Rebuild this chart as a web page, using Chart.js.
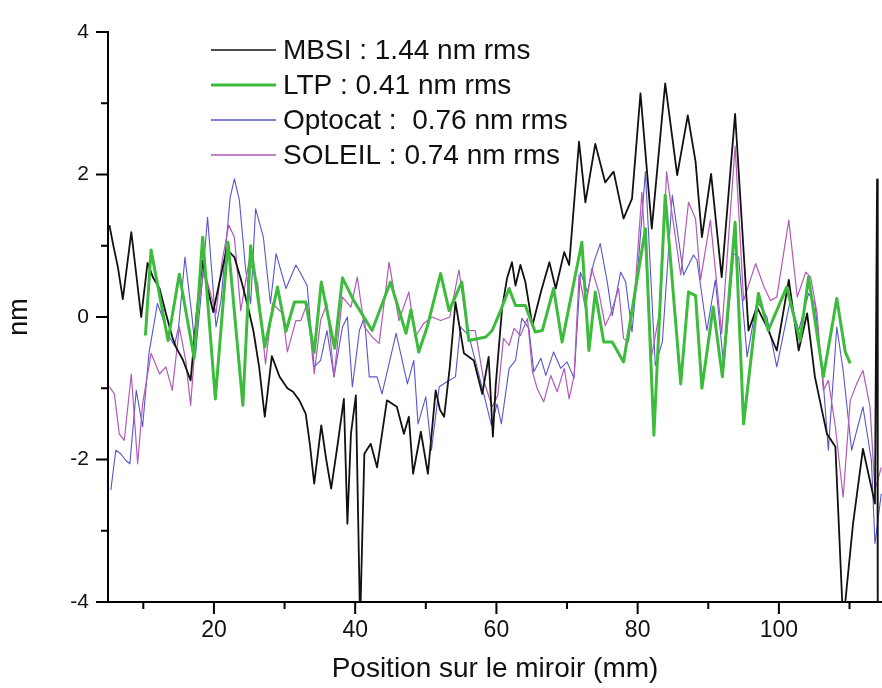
<!DOCTYPE html>
<html>
<head>
<meta charset="utf-8">
<script src="https://cdn.jsdelivr.net/npm/chart.js@4"></script>
<style>
  html, body { margin: 0; padding: 0; background: #fff; }
  #wrap { width: 882px; height: 688px; }
</style>
</head>
<body>
<div id="wrap"><canvas id="chart" width="882" height="688"></canvas></div>
<script>
// Profils de hauteur (nm) le long du miroir (mm)
const mbsiX = [5.2, 5.7, 6.4, 7.1, 8.3, 9.0, 9.7, 10.6, 11.4, 12.3, 13.2, 14.1, 14.6, 15.6, 16.7, 17.6, 18.4, 19.1, 19.9, 20.8,
  21.8, 22.9, 23.9, 24.8, 25.6, 26.4, 27.2, 28.2, 29.3, 30.4, 31.2, 32.1, 33.0, 33.6, 34.2, 35.2, 35.9, 36.6, 37.5, 38.4,
  38.9, 39.4, 40.1, 40.7, 41.3, 42.2, 43.1, 44.5, 45.9, 46.9, 47.6, 48.2, 49.3, 50.3, 51.4, 52.0, 52.6, 53.4, 54.2, 55.4,
  56.8, 58.0, 58.9, 59.5, 59.9, 60.8, 61.5, 62.2, 62.7, 63.4, 64.1, 65.1, 66.3, 67.5, 68.4, 69.6, 70.3, 71.7, 72.6, 74.0,
  75.4, 76.6, 78.0, 79.2, 80.4, 82.0, 83.9, 85.6, 87.1, 88.2, 89.1, 90.4, 91.9, 93.8, 95.7, 96.9, 98.3, 99.7, 101.4, 102.8,
  104.0, 105.1, 106.8, 108.0, 109.1, 110.5, 111.9, 113.6, 113.9, 114.0];
const mbsiY = [1.29, 1.03, 0.70, 0.25, 1.19, 0.60, 0.00, 0.76, 0.55, 0.40, 0.05, -0.28, -0.42, -0.60, -0.89, 0.10, 0.79, 0.40, 0.07, 0.50,
  0.95, 0.84, 0.50, 0.15, -0.20, -0.70, -1.40, -0.55, -0.84, -1.00, -1.05, -1.17, -1.36, -1.80, -2.34, -1.52, -2.00, -2.41, -1.80, -1.15,
  -2.90, -1.64, -1.10, -4.30, -1.92, -1.78, -2.11, -1.17, -1.26, -1.64, -1.40, -2.20, -1.61, -2.20, -1.03, -1.30, -1.40, -0.70, 0.21, -0.51,
  -0.61, -1.08, -0.56, -1.68, -0.96, 0.12, 0.54, 0.77, 0.44, 0.73, 0.49, -0.12, 0.35, 0.77, 0.40, 0.91, 0.73, 2.46, 1.61, 2.43,
  1.89, 2.04, 1.38, 1.66, 3.14, 1.24, 3.28, 1.99, 2.83, 2.18, 1.12, 2.01, 0.56, 2.85, -0.19, 0.14, -0.14, -0.47, 0.52, -0.47,
  0.05, -0.84, -1.64, -1.82, -4.30, -2.90, -1.85, -2.62, 1.93, -4.50];

const ltpX = [10.3, 11.1, 13.5, 15.1, 17.2, 18.4, 20.2, 22.0, 24.1, 25.2, 27.2, 29.0, 30.2, 31.4, 33.0, 34.2, 35.2, 37.1, 38.2, 39.8,
  42.4, 45.0, 47.2, 47.9, 49.0, 50.2, 52.1, 53.3, 55.1, 56.1, 58.5, 59.4, 60.6, 61.8, 62.7, 64.1, 65.5, 66.5, 68.1, 69.3,
  72.1, 73.1, 74.0, 75.2, 76.4, 78.0, 81.1, 82.3, 83.9, 86.1, 87.2, 88.2, 89.1, 90.7, 92.0, 93.8, 95.0, 97.1, 98.5, 101.1,
  103.0, 104.2, 106.3, 108.2, 109.4, 110.1];
const ltpY = [-0.26, 0.94, -0.33, 0.60, -0.58, 1.12, -1.15, 1.05, -1.24, 1.00, -0.42, 0.42, -0.20, 0.21, 0.21, -0.50, 0.49, -0.44, 0.55, 0.23,
  -0.19, 0.49, -0.23, 0.10, -0.49, -0.14, 0.61, 0.09, 0.49, -0.33, -0.28, -0.19, 0.09, 0.40, 0.16, 0.16, -0.21, -0.19, 0.40, -0.35,
  1.05, -0.47, 0.35, -0.35, -0.35, -0.63, 1.24, -1.66, 1.71, -0.94, 0.35, 0.30, -1.00, 0.14, -0.84, 1.33, -1.50, 0.33, -0.19, 0.42,
  -0.33, 0.56, -0.84, 0.26, -0.49, -0.65];

const optoX = [5.4, 6.1, 6.8, 7.5, 8.1, 9.0, 9.9, 10.8, 12.0, 12.7, 13.4, 14.4, 15.0, 15.9, 16.9, 17.4, 18.2, 19.1, 20.3, 21.0,
  22.3, 22.9, 23.6, 24.5, 25.2, 25.9, 27.0, 28.0, 28.8, 30.2, 31.6, 32.3, 33.2, 34.2, 35.1, 36.0, 37.0, 38.2, 38.9, 39.6,
  40.6, 41.3, 42.0, 43.1, 43.8, 45.8, 47.4, 48.3, 48.9, 50.0, 50.8, 51.9, 53.0, 54.2, 54.9, 56.1, 57.0, 58.2, 59.3, 60.1,
  60.7, 61.8, 62.7, 63.6, 64.6, 65.3, 66.3, 67.0, 68.1, 69.1, 70.0, 71.0, 71.9, 72.9, 73.8, 74.7, 75.7, 76.4, 77.6, 78.3,
  79.2, 80.1, 81.1, 82.5, 83.5, 84.9, 86.5, 87.9, 88.4, 89.8, 91.0, 92.2, 93.6, 94.3, 95.5, 96.9, 98.3, 99.7, 101.6, 102.8,
  104.2, 105.1, 106.3, 107.0, 108.2, 109.1, 110.3, 111.9, 113.1, 113.6, 114.5];
const optoY = [-2.43, -1.87, -1.92, -2.01, -2.06, -1.03, -1.54, -0.51, 0.19, 0.00, -0.23, -0.40, -0.14, 0.84, 0.00, -0.51, 0.33, 1.40, -0.14, 0.23,
  1.68, 1.94, 1.64, 0.66, 0.19, 1.52, 1.12, 0.19, 0.89, 0.40, 0.73, 0.61, 0.44, -0.70, -0.61, -0.19, -0.84, -0.14, 0.00, -0.98,
  -0.19, 0.00, -0.84, -0.84, -1.08, -0.23, -0.94, -0.61, -1.50, -1.12, -1.87, -0.98, -0.91, -0.84, -0.14, -0.26, -0.61, -1.08, -1.52, -1.22,
  -1.50, -0.72, -0.61, -0.02, -0.16, -0.77, -0.58, -0.82, -0.49, -0.72, -0.63, -0.86, 0.63, 0.35, 0.77, 1.03, 0.49, 0.02, 0.63, 0.49,
  -0.21, 0.77, 2.04, -0.68, -0.35, 1.71, 0.59, 0.87, 0.80, -0.19, 0.52, -0.70, 0.89, 0.84, -0.56, 0.23, 0.00, -0.70, 0.23, -0.19,
  0.33, 0.19, -0.94, -1.87, -0.14, -0.75, -1.87, -1.26, -2.01, -3.18, -2.48];

const soleilX = [5.2, 5.9, 6.6, 7.3, 8.3, 9.2, 9.9, 11.1, 12.3, 13.2, 14.1, 15.1, 16.0, 16.7, 17.7, 18.6, 20.3, 21.1, 22.1, 22.9,
  23.8, 25.0, 26.2, 27.3, 28.3, 29.7, 30.4, 31.6, 32.3, 33.2, 34.2, 35.1, 36.0, 37.0, 38.2, 39.4, 40.3, 41.3, 42.4, 43.4,
  44.8, 46.2, 47.6, 48.5, 49.7, 50.9, 52.1, 53.4, 54.7, 55.9, 57.0, 58.2, 59.4, 60.2, 61.0, 61.8, 62.5, 63.4, 64.4, 65.1,
  65.8, 66.7, 67.7, 68.6, 69.6, 70.3, 71.0, 71.7, 72.6, 73.5, 74.5, 75.4, 76.1, 77.3, 78.0, 78.7, 79.7, 80.6, 82.0, 83.2,
  84.1, 84.9, 86.1, 87.2, 88.2, 88.9, 90.3, 91.9, 93.8, 95.0, 96.7, 97.9, 98.8, 99.7, 101.4, 102.6, 103.8, 104.5, 105.4, 106.3,
  107.0, 108.0, 109.1, 110.1, 111.0, 111.9, 112.9, 113.6, 114.5];
const soleilY = [-0.98, -1.08, -1.64, -1.73, -0.80, -2.06, -1.22, -0.51, -0.80, -0.70, -1.03, -0.14, -0.61, -1.24, 0.09, 0.66, 0.05, 0.75, 1.29, 1.12,
  0.09, 0.80, 0.47, -0.66, 0.19, 0.05, -0.49, -0.05, -0.05, 0.19, -0.80, -0.05, 0.19, -0.84, 0.28, 0.14, 0.56, -0.14, -0.28, -0.37,
  0.77, -0.05, 0.35, -0.28, -0.09, 0.00, -0.05, 0.00, 0.66, -0.19, -0.19, -0.89, -1.26, -1.10, -0.30, -0.40, -0.16, -0.26, -0.02, -0.77,
  -1.01, -1.19, -0.82, -1.05, -0.72, -1.15, -0.82, 0.59, 0.12, 0.68, 0.35, -0.12, 0.02, 0.40, -0.30, -0.35, 0.49, 1.75, -0.54, 0.12,
  2.04, 1.43, 0.59, 1.61, 1.38, 0.52, 1.36, -0.23, 2.40, 0.23, 0.75, 0.42, 0.23, 0.28, 1.36, 0.28, 0.63, 0.56, 0.05, -1.03,
  -0.89, -1.54, -2.53, -1.17, -0.94, -0.75, -1.26, -2.43, -2.11];

const seriesLabels = ['MBSI : 1.44 nm rms', 'LTP : 0.41 nm rms', 'Optocat :  0.76 nm rms', 'SOLEIL : 0.74 nm rms'];

// graduations
const xMajorTicks = [20, 40, 60, 80, 100];
const xMinorTicks = [10, 30, 50, 70, 90, 110];
const yMajorTicks = [-4, -2, 0, 2, 4];
const yMinorTicks = [-3, -1, 1, 3];

function pts(xs, ys) {
  return xs.map((x, i) => ({ x: x, y: ys[i] }));
}

// tick marks drawn outward, major longer than minor
const tickMarks = {
  id: 'tickMarks',
  afterDraw(chart) {
    const ctx = chart.ctx;
    const xs = chart.scales.x, ys = chart.scales.y;
    const area = chart.chartArea;
    ctx.save();
    ctx.strokeStyle = '#000';
    ctx.lineWidth = 2;
    ctx.beginPath();
    xMajorTicks.forEach(v => { const p = xs.getPixelForValue(v); ctx.moveTo(p, area.bottom); ctx.lineTo(p, area.bottom + 12); });
    xMinorTicks.forEach(v => { const p = xs.getPixelForValue(v); ctx.moveTo(p, area.bottom); ctx.lineTo(p, area.bottom + 7); });
    yMajorTicks.forEach(v => { const p = ys.getPixelForValue(v); ctx.moveTo(area.left, p); ctx.lineTo(area.left - 12, p); });
    yMinorTicks.forEach(v => { const p = ys.getPixelForValue(v); ctx.moveTo(area.left, p); ctx.lineTo(area.left - 7, p); });
    ctx.stroke();
    ctx.restore();
  }
};

// legend inside the plot, top left
const insideLegend = {
  id: 'insideLegend',
  afterDraw(chart) {
    const ctx = chart.ctx;
    ctx.save();
    chart.data.datasets.forEach((ds, i) => {
      const y = 50 + i * 35;
      ctx.strokeStyle = ds.borderColor;
      ctx.lineWidth = ds.borderWidth > 2 ? 3 : 1.3;
      ctx.beginPath();
      ctx.moveTo(211, y);
      ctx.lineTo(276, y);
      ctx.stroke();
      ctx.fillStyle = '#111';
      ctx.font = '28px "Liberation Sans", Arial, sans-serif';
      ctx.textBaseline = 'middle';
      ctx.fillText(ds.label, 283, y + 1);
    });
    ctx.restore();
  }
};

new Chart(document.getElementById('chart').getContext('2d'), {
  type: 'line',
  data: {
    datasets: [
      { label: seriesLabels[0], data: pts(mbsiX, mbsiY), borderColor: '#111111', borderWidth: 1.8, order: 2 },
      { label: seriesLabels[1], data: pts(ltpX, ltpY), borderColor: '#3dbb3d', borderWidth: 3, order: 1 },
      { label: seriesLabels[2], data: pts(optoX, optoY), borderColor: '#5656cc', borderWidth: 1.1, order: 4 },
      { label: seriesLabels[3], data: pts(soleilX, soleilY), borderColor: '#b25ab8', borderWidth: 1.2, order: 3 }
    ]
  },
  options: {
    responsive: false,
    animation: false,
    elements: { point: { radius: 0 }, line: { tension: 0, borderJoinStyle: 'round' } },
    layout: { padding: { top: 32, right: 0, left: 0, bottom: 0 } },
    plugins: { legend: { display: false }, tooltip: { enabled: false } },
    scales: {
      x: {
        type: 'linear',
        min: 5,
        max: 114.6,
        afterFit: s => { s.height = 86; },
        afterBuildTicks: s => { s.ticks = xMajorTicks.map(v => ({ value: v })); },
        grid: { display: false, drawTicks: false },
        border: { display: true, color: '#000', width: 2 },
        ticks: { color: '#111', padding: 15, font: { family: '"Liberation Sans", Arial', size: 23 }, maxRotation: 0 },
        title: { display: true, text: 'Position sur le miroir (mm)', color: '#111',
                 font: { family: '"Liberation Sans", Arial', size: 28 }, padding: { top: 0, bottom: 2 } }
      },
      y: {
        min: -4,
        max: 4,
        afterFit: s => { s.width = 108; },
        afterBuildTicks: s => { s.ticks = yMajorTicks.map(v => ({ value: v })); },
        grid: { display: false, drawTicks: false },
        border: { display: true, color: '#000', width: 2 },
        ticks: { color: '#111', padding: 19, font: { family: '"Liberation Sans", Arial', size: 21 } },
        title: { display: true, text: 'nm', color: '#111',
                 font: { family: '"Liberation Sans", Arial', size: 27 }, padding: { top: 3, bottom: 0 } }
      }
    }
  },
  plugins: [tickMarks, insideLegend]
});
</script>
</body>
</html>
